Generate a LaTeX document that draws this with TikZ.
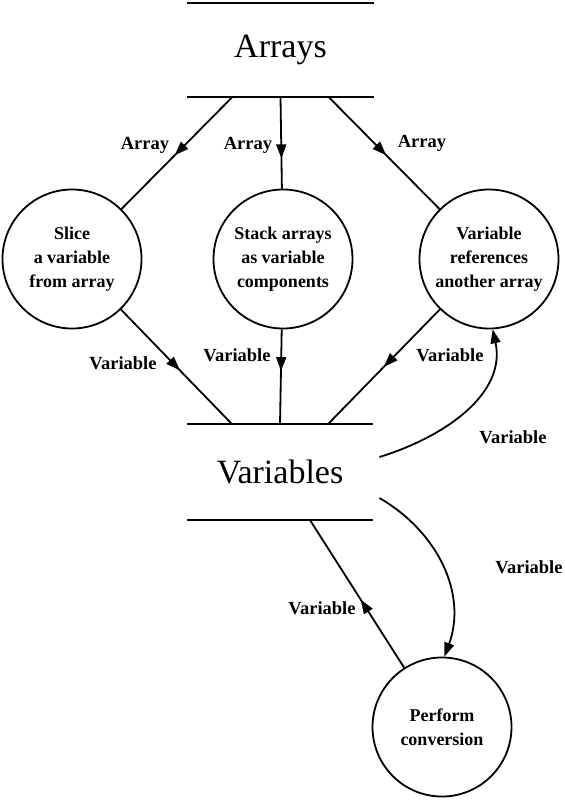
\documentclass[tikz,border=0pt]{standalone}
\usepackage{fontspec}
\setmainfont{Liberation Serif}
\usetikzlibrary{arrows.meta,calc,decorations.markings}

\begin{document}
\begin{tikzpicture}[x=1pt,y=1pt]
    \useasboundingbox (0,0) rectangle (565,-801);
    \tikzstyle{every path}=[line width=1.8pt]
    \edef\processsize{139pt}
    \tikzstyle{process}=[draw,circle,minimum size=\processsize,inner sep=0pt,align=center,
                         font=\fontsize{18}{24}\selectfont\bfseries]
    \tikzstyle{store}=[minimum width=185pt,minimum height=92pt,inner sep=0pt,
                       font=\fontsize{34}{40}\selectfont]
    \tikzstyle{storeline}=[line width=2.4pt]
    \tikzstyle{flowlabel}=[font=\fontsize{18.5}{22}\selectfont\bfseries]
    \tikzstyle{endarrow}=[-{Triangle[length=14pt,width=10pt]}]
    \tikzset{flow/.style={postaction={decorate},decoration={markings,
             mark=at position #1 with {\arrow{Triangle[length=14pt,width=10pt]}}}}}

    % data stores
    \node[store] (arrays) at (280.5,-50) {Arrays};
    \node[store,minimum height=94pt] (vars) at (280,-472) {Variables};
    \draw[storeline] (arrays.north west) -- (arrays.north east)
                     (arrays.south west) -- (arrays.south east);
    \draw[storeline] (vars.north west) -- (vars.north east)
                     (vars.south west) -- (vars.south east);

    % processes
    \node[process] (slice) at (72,-259)  {Slice\\a variable\\from array};
    \node[process] (stack) at (283,-259) {Stack arrays\\as variable\\components};
    \node[process] (ref)   at (489,-259) {Variable\\references\\another array};
    \node[process] (conv)  at (442,-727) {Perform\\conversion};

    % ends on the store lines
    \coordinate (a1) at ($(arrays.south west)!0.243!(arrays.south east)$);
    \coordinate (a2) at ($(arrays.south west)!0.5!(arrays.south east)$);
    \coordinate (a3) at ($(arrays.south west)!0.757!(arrays.south east)$);
    \coordinate (v1) at ($(vars.north west)!0.243!(vars.north east)$);
    \coordinate (v2) at ($(vars.north west)!0.5!(vars.north east)$);
    \coordinate (v3) at ($(vars.north west)!0.757!(vars.north east)$);
    \coordinate (v4) at ($(vars.south west)!0.66!(vars.south east)$);
    \coordinate (r1) at ($(vars.east)+(6,15)$);
    \coordinate (r2) at ($(vars.east)+(6,-26)$);

    % flows
    \draw[flow=0.52] (a1) -- (slice);
    \draw[flow=0.67] (a2) -- (stack);
    \draw[flow=0.52] (a3) -- (ref);
    \draw[flow=0.53] (slice) -- (v1);
    \draw[flow=0.44] (stack) -- (v2);
    \draw[flow=0.50] (ref) -- (v3);
    \draw[flow=0.46] (conv) -- (v4);
    \draw[endarrow] (r1) to[out=17,in=-78] (ref.-87);
    \draw[endarrow] (r2) to[out=-30,in=70] (conv.88);

    % flow labels
    \node[flowlabel] (la1) at (145,-145) {Array};
    \node[flowlabel] (la2) at (248,-145) {Array};
    \node[flowlabel] (la3) at (422,-143) {Array};
    \node[flowlabel] (lv1) at (123,-363) {Variable};
    \node[flowlabel] (lv2) at (237,-355) {Variable};
    \node[flowlabel] (lv3) at (450,-355) {Variable};
    \node[flowlabel] (lr1) at (513,-437) {Variable};
    \node[flowlabel] (lr2) at (529,-567) {Variable};
    \node[flowlabel] (lv4) at (322,-608) {Variable};
\end{tikzpicture}
\end{document}
